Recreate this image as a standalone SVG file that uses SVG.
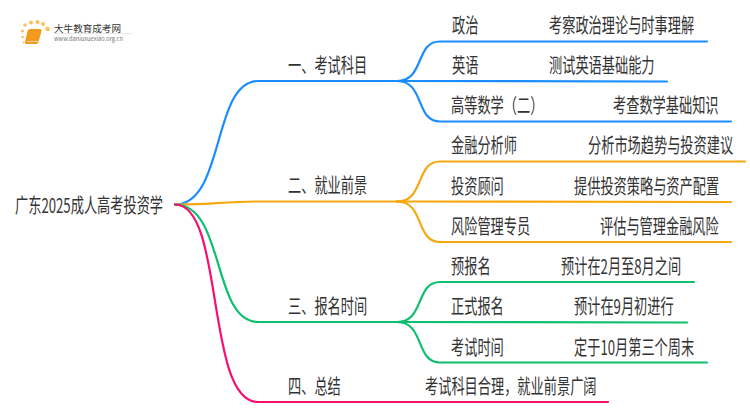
<svg xmlns="http://www.w3.org/2000/svg" width="750" height="410" viewBox="0 0 750 410">
<style>
text{font-family:"Noto Sans CJK SC","Noto Sans",sans-serif;font-size:20px;fill:#333;}
.c{fill:none;stroke-width:2.2;stroke-linecap:round}
.b{stroke:#1a8cff}.o{stroke:#f5a80f}.g{stroke:#0dbf6f}.p{stroke:#f5106f}
</style>
<rect width="750" height="410" fill="#fff"/>
<g id="logo">
<path d="M29 29h11q2 0 1.500 2l-3 11q-.5 2-2.500 2h-9q-2.500 0-2-2l2.500-11q.5-2 2.500-2z" fill="#f39a1e"/>
<path d="M27 41.500h11" stroke="#ffd89a" fill="none"/>
<g fill="#fbc25a"><circle cx="25" cy="25" r="1.800"/><circle cx="31" cy="22.500" r="2"/><circle cx="37.500" cy="22" r="2"/><circle cx="43" cy="24" r="2"/><circle cx="47.500" cy="29" r="2.300"/><circle cx="22.500" cy="31" r="1.500"/><circle cx="22.500" cy="37" r="1.300"/><circle cx="23.500" cy="42.500" r="1"/></g>
<text x="54" y="32" textLength="67" lengthAdjust="spacingAndGlyphs" style="font-size:9.500px">大牛教育成考网</text>
<text x="54" y="41" textLength="69" lengthAdjust="spacingAndGlyphs" style="font-size:6px;fill:#777">www.daniuxuexiao.org.cn</text>
<path d="M54 33.500H132" stroke="#e8e8e8" fill="none"/>
</g>
<g id="connectors">
<path class="c b" d="M175 204.500C225 204.500 212 81 258 81H397"/>
<path class="c o" d="M175 204.500C205 205 225 201.500 258 201.500H397"/>
<path class="c g" d="M175 204.500C225 204.500 212 322 258 322H397"/>
<path class="c p" d="M175 204.500C225 204.500 205 402 258 402H608"/>
<path class="c b" d="M397 81C425 81 415 41 440 41.500H707"/>
<path class="c b" d="M397 81L667 81.500"/>
<path class="c b" d="M397 81C425 81 415 121.500 440 121.500H731"/>
<path class="c o" d="M397 201.500C425 201.500 415 161.500 440 161.500H745"/>
<path class="c o" d="M397 201.500L731 202"/>
<path class="c o" d="M397 201.500C425 201.500 415 242 440 242H731"/>
<path class="c g" d="M397 322C425 322 415 282 440 282H694"/>
<path class="c g" d="M397 322L687 322.500"/>
<path class="c g" d="M397 322C425 322 415 362.500 440 362.500H707"/>
</g>
<g id="root"><text transform="matrix(.66 0 0 1 15 213)">广东2025成人高考投资学</text></g>
<g id="n1"><text transform="matrix(.66 0 0 1 288 73)">一、考试科目</text></g>
<g id="n2"><text transform="matrix(.66 0 0 1 288 193)">二、就业前景</text></g>
<g id="n3"><text transform="matrix(.66 0 0 1 288 314)">三、报名时间</text></g>
<g id="n4"><text transform="matrix(.66 0 0 1 288 394)">四、总结</text></g>
<g id="n1a"><text transform="matrix(.66 0 0 1 452 33)">政治</text><text transform="matrix(.66 0 0 1 549 33)">考察政治理论与时事理解</text></g>
<g id="n1b"><text transform="matrix(.66 0 0 1 452 73)">英语</text><text transform="matrix(.66 0 0 1 549 73)">测试英语基础能力</text></g>
<g id="n1c"><text transform="matrix(.66 0 0 1 451 113)">高等数学（二）</text><text transform="matrix(.66 0 0 1 613 113)">考查数学基础知识</text></g>
<g id="n2a"><text transform="matrix(.66 0 0 1 451 153)">金融分析师</text><text transform="matrix(.66 0 0 1 588 153)">分析市场趋势与投资建议</text></g>
<g id="n2b"><text transform="matrix(.66 0 0 1 451 194)">投资顾问</text><text transform="matrix(.66 0 0 1 574 194)">提供投资策略与资产配置</text></g>
<g id="n2c"><text transform="matrix(.66 0 0 1 451 234)">风险管理专员</text><text transform="matrix(.66 0 0 1 600 234)">评估与管理金融风险</text></g>
<g id="n3a"><text transform="matrix(.66 0 0 1 451 274)">预报名</text><text transform="matrix(.66 0 0 1 561 274)">预计在2月至8月之间</text></g>
<g id="n3b"><text transform="matrix(.66 0 0 1 451 314)">正式报名</text><text transform="matrix(.66 0 0 1 574 314)">预计在9月初进行</text></g>
<g id="n3c"><text transform="matrix(.66 0 0 1 451 355)">考试时间</text><text transform="matrix(.66 0 0 1 574 355)">定于10月第三个周末</text></g>
<g id="n4a"><text transform="matrix(.66 0 0 1 425 394)">考试科目合理，就业前景广阔</text></g>
</svg>
